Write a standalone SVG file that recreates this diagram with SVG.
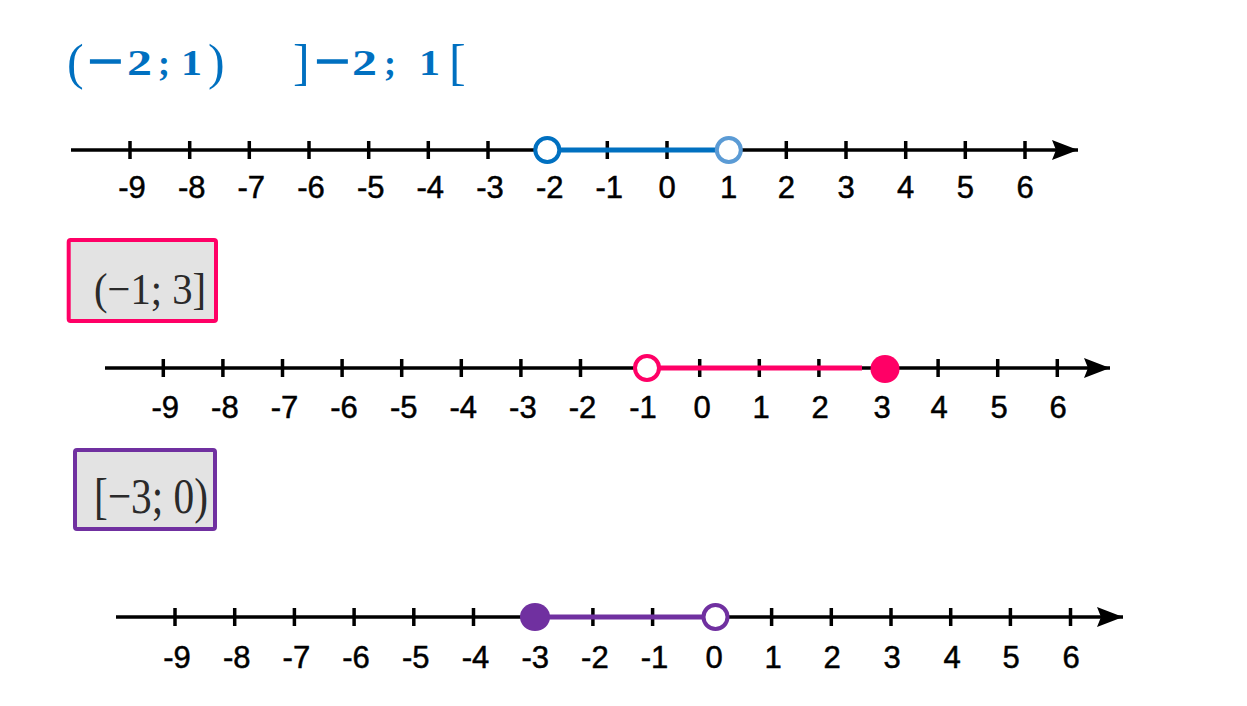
<svg xmlns="http://www.w3.org/2000/svg" width="1247" height="706" viewBox="0 0 1247 706">
<style>
.axis{stroke:#000;stroke-width:3.5;fill:none}
.tick{stroke:#000;stroke-width:3.5}
.lbl{font-family:"Liberation Sans",Arial,sans-serif;font-size:31px;fill:#000;stroke:#000;stroke-width:0.5;text-anchor:middle}
.title{font-family:"Liberation Serif","Times New Roman",serif;font-weight:bold;font-size:36px;fill:#0070C0}
.br{font-size:50px;font-weight:normal}
.mn{stroke:#0070C0;stroke-width:1.6;font-size:41px}
.scan{font-family:"Liberation Serif","Times New Roman",serif;fill:#2a2a2a}
</style>
<defs>
<marker id="arr" markerUnits="userSpaceOnUse" markerWidth="28" markerHeight="22" refX="26" refY="10" orient="auto">
<path d="M0,0 L26,10 L0,20 L4,10 Z" fill="#000"/>
</marker>
<path id="tk" d="M0,-9 V9" class="tick"/>
</defs>
<rect width="1247" height="706" fill="#fff"/>

<g id="title">
<text class="title br" x="67" y="79">(</text>
<text class="title mn" x="88" y="75" textLength="35" lengthAdjust="spacingAndGlyphs">−</text>
<text class="title" x="127" y="75" textLength="25" lengthAdjust="spacingAndGlyphs">2</text>
<text class="title" x="158" y="75" font-size="40">;</text>
<text class="title" x="181" y="75" textLength="21" lengthAdjust="spacingAndGlyphs">1</text>
<text class="title br" x="208" y="79">)</text>
<text class="title br" x="293" y="79">]</text>
<text class="title mn" x="315" y="75" textLength="35" lengthAdjust="spacingAndGlyphs">−</text>
<text class="title" x="352" y="75" textLength="25" lengthAdjust="spacingAndGlyphs">2</text>
<text class="title" x="384" y="75" font-size="40">;</text>
<text class="title" x="419" y="75" textLength="21" lengthAdjust="spacingAndGlyphs">1</text>
<text class="title br" x="449" y="79">[</text>
</g>

<g id="line1">
<line class="axis" x1="71" y1="150" x2="1078" y2="150" marker-end="url(#arr)"/>
<use href="#tk" x="130" y="150"/><use href="#tk" x="189.7" y="150"/><use href="#tk" x="249.3" y="150"/><use href="#tk" x="309" y="150"/><use href="#tk" x="368.7" y="150"/><use href="#tk" x="428.3" y="150"/><use href="#tk" x="488" y="150"/><use href="#tk" x="607.3" y="150"/><use href="#tk" x="667" y="150"/><use href="#tk" x="786.3" y="150"/><use href="#tk" x="846" y="150"/><use href="#tk" x="905.7" y="150"/><use href="#tk" x="965.3" y="150"/><use href="#tk" x="1025" y="150"/>
<g class="lbl">
<text x="132" y="198">-9</text><text x="191.7" y="198">-8</text><text x="251.3" y="198">-7</text><text x="311" y="198">-6</text><text x="370.7" y="198">-5</text><text x="430.3" y="198">-4</text><text x="490" y="198">-3</text><text x="549.7" y="198">-2</text><text x="609.3" y="198">-1</text><text x="667" y="198">0</text><text x="728.5" y="198">1</text><text x="786.3" y="198">2</text><text x="846" y="198">3</text><text x="905.7" y="198">4</text><text x="965.3" y="198">5</text><text x="1025" y="198">6</text>
</g>
<line x1="547.3" y1="150" x2="728.8" y2="150" stroke="#0070C0" stroke-width="5"/>
<circle cx="547.3" cy="150" r="12" fill="#fff" stroke="#0070C0" stroke-width="4"/>
<circle cx="728.8" cy="150" r="12" fill="#fff" stroke="#5B9BD5" stroke-width="4"/>
</g>

<g id="box2">
<rect x="68.7" y="240" width="147.3" height="81" rx="2" fill="#e3e3e3" stroke="#FF0066" stroke-width="4"/>
<text class="scan" x="94" y="304" font-size="44" textLength="112" lengthAdjust="spacingAndGlyphs">(−1; 3]</text>
</g>

<g id="line2">
<line class="axis" x1="105" y1="368" x2="1110" y2="368" marker-end="url(#arr)"/>
<use href="#tk" x="163.3" y="368"/><use href="#tk" x="222.9" y="368"/><use href="#tk" x="282.5" y="368"/><use href="#tk" x="342.1" y="368"/><use href="#tk" x="401.7" y="368"/><use href="#tk" x="461.3" y="368"/><use href="#tk" x="520.9" y="368"/><use href="#tk" x="580.5" y="368"/><use href="#tk" x="699.7" y="368"/><use href="#tk" x="759.3" y="368"/><use href="#tk" x="818.9" y="368"/><use href="#tk" x="938.1" y="368"/><use href="#tk" x="997.7" y="368"/><use href="#tk" x="1057.3" y="368"/>
<g class="lbl">
<text x="165.3" y="418">-9</text><text x="224.9" y="418">-8</text><text x="284.5" y="418">-7</text><text x="344.1" y="418">-6</text><text x="403.7" y="418">-5</text><text x="463.3" y="418">-4</text><text x="522.9" y="418">-3</text><text x="582.5" y="418">-2</text><text x="643" y="418">-1</text><text x="702" y="418">0</text><text x="761" y="418">1</text><text x="820" y="418">2</text><text x="882" y="418">3</text><text x="939" y="418">4</text><text x="999" y="418">5</text><text x="1058" y="418">6</text>
</g>
<line x1="647" y1="368" x2="862" y2="368" stroke="#FF0066" stroke-width="5"/>
<circle cx="647" cy="368" r="12" fill="#fff" stroke="#FF0066" stroke-width="4"/>
<ellipse cx="885" cy="369" rx="14.5" ry="14" fill="#FF0066"/>
</g>

<g id="box3">
<rect x="75" y="450" width="140" height="79" rx="2" fill="#e3e3e3" stroke="#7030A0" stroke-width="4"/>
<text class="scan" x="94" y="513" font-size="50" textLength="114" lengthAdjust="spacingAndGlyphs">[−3; 0)</text>
</g>

<g id="line3">
<line class="axis" x1="116" y1="617" x2="1123" y2="617" marker-end="url(#arr)"/>
<use href="#tk" x="175" y="617"/><use href="#tk" x="234.7" y="617"/><use href="#tk" x="294.4" y="617"/><use href="#tk" x="354.1" y="617"/><use href="#tk" x="413.8" y="617"/><use href="#tk" x="473.5" y="617"/><use href="#tk" x="592.9" y="617"/><use href="#tk" x="652.6" y="617"/><use href="#tk" x="771.6" y="617"/><use href="#tk" x="831.3" y="617"/><use href="#tk" x="891" y="617"/><use href="#tk" x="950.7" y="617"/><use href="#tk" x="1010.4" y="617"/><use href="#tk" x="1070.5" y="617"/>
<g class="lbl">
<text x="177" y="668">-9</text><text x="236.7" y="668">-8</text><text x="296.4" y="668">-7</text><text x="356.1" y="668">-6</text><text x="415.8" y="668">-5</text><text x="475.5" y="668">-4</text><text x="535.2" y="668">-3</text><text x="594.9" y="668">-2</text><text x="654.6" y="668">-1</text><text x="714" y="668">0</text><text x="773" y="668">1</text><text x="832" y="668">2</text><text x="892" y="668">3</text><text x="952" y="668">4</text><text x="1011" y="668">5</text><text x="1071" y="668">6</text>
</g>
<line x1="535" y1="617" x2="704" y2="617" stroke="#7030A0" stroke-width="5"/>
<ellipse cx="535" cy="617" rx="15" ry="14" fill="#7030A0"/>
<circle cx="715.5" cy="617" r="12" fill="#fff" stroke="#7030A0" stroke-width="4"/>
</g>
</svg>
